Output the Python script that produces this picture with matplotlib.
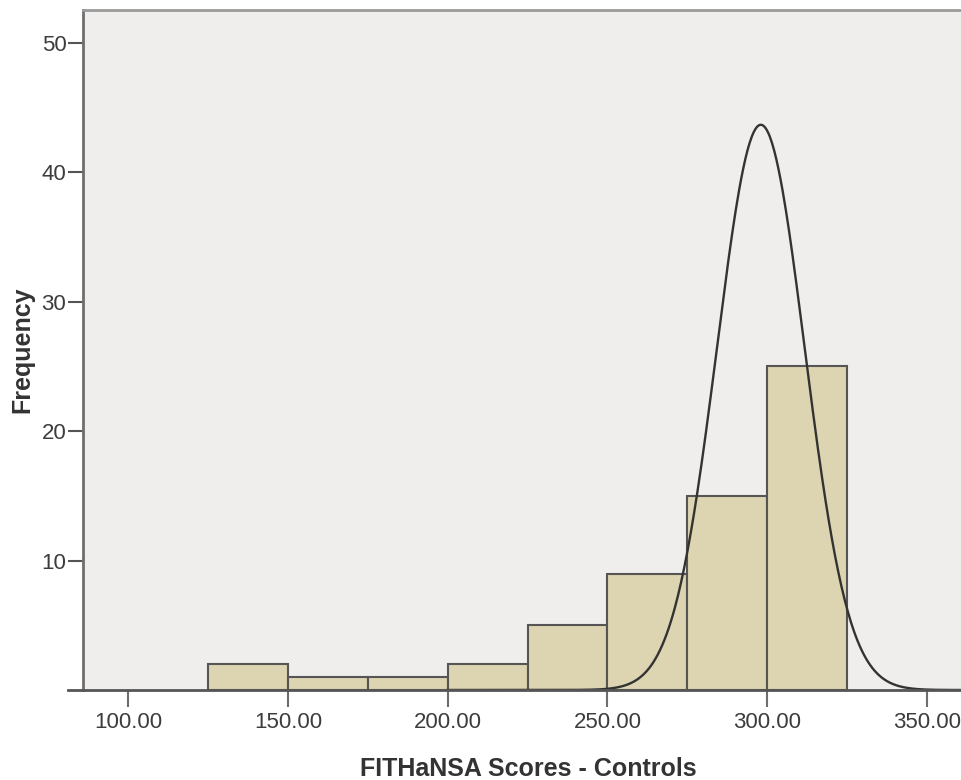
import numpy as np
import matplotlib
matplotlib.use("Agg")
import matplotlib.pyplot as plt

plt.rcParams["font.family"] = ["Liberation Sans", "DejaVu Sans"]

# histogram bins (score ranges) and counts
bin_edges = [125, 150, 175, 200, 225, 250, 275, 300, 325]
counts = [2, 1, 1, 2, 5, 9, 15, 25]

# fitted normal curve as drawn by SPSS
curve_mean = 298.0
curve_sd = 13.7
n_cases = 60

x_ticks = [100, 150, 200, 250, 300, 350]
y_ticks = [10, 20, 30, 40, 50]

fig = plt.figure(figsize=(9.62, 7.8), dpi=100)
ax = fig.add_axes([83 / 962, 90 / 780, 890 / 962, 680 / 780])
ax.set_facecolor("#efeeec")

widths = np.diff(bin_edges)
ax.bar(bin_edges[:-1], counts, width=widths, align="edge",
       color="#ddd4b1", edgecolor="#555555", linewidth=1.5, zorder=2)

xs = np.linspace(200, 400, 600)
binw = widths[0]
ys = n_cases * binw / (curve_sd * np.sqrt(2 * np.pi)) * np.exp(-0.5 * ((xs - curve_mean) / curve_sd) ** 2)
ax.plot(xs, ys, color="#333333", linewidth=1.7, zorder=3)

ax.set_xlim(85.9, 364.4)
ax.set_ylim(0, 52.55)
ax.set_xticks(x_ticks)
ax.set_xticklabels([f"{v:.2f}" for v in x_ticks])
ax.set_yticks(y_ticks)

for s in ["left", "bottom"]:
    ax.spines[s].set_color("#6e6e6e")
    ax.spines[s].set_linewidth(2)
ax.spines["top"].set_color("#9a9a9a")
ax.spines["top"].set_linewidth(2)
ax.spines["right"].set_visible(False)
ax.spines["bottom"].set_visible(False)
# baseline runs a bit left of the y axis
ax.plot([-0.017, 1], [0, 0], transform=ax.transAxes, color="#555555",
        linewidth=2, clip_on=False, zorder=4)

ax.tick_params(axis="x", length=12, width=1.5, color="#6e6e6e", pad=4,
               labelsize=16, labelcolor="#3c3c3c")
ax.tick_params(axis="y", length=11, width=1.5, color="#555555", pad=1,
               labelsize=16, labelcolor="#3c3c3c")

ax.set_xlabel("FITHaNSA Scores - Controls", fontsize=18, fontweight="bold",
              color="#333333", labelpad=17)
ax.set_ylabel("Frequency", fontsize=18, fontweight="bold", color="#333333",
              labelpad=5)

fig.savefig("out.png", dpi=100, facecolor="white")
